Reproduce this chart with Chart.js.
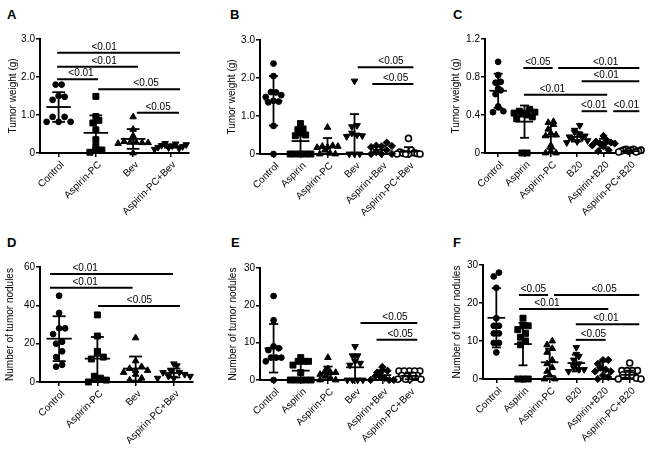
<!DOCTYPE html>
<html><head><meta charset="utf-8">
<script src="https://cdn.jsdelivr.net/npm/chart.js@4/dist/chart.umd.min.js"></script>
<style>
html,body{margin:0;padding:0;background:#fff;}
#wrap{position:relative;width:654px;height:454px;overflow:hidden;background:#fff;}
canvas{position:absolute;}
.lbl{position:absolute;font:bold 13px 'Liberation Sans',Arial,sans-serif;line-height:13px;color:#000;}
</style></head><body><div id="wrap">
<div class="lbl" style="left:7px;top:8px">A</div>
<div class="lbl" style="left:230px;top:8px">B</div>
<div class="lbl" style="left:453px;top:8px">C</div>
<div class="lbl" style="left:7px;top:236px">D</div>
<div class="lbl" style="left:231px;top:236px">E</div>
<div class="lbl" style="left:453px;top:236px">F</div>
<canvas id="cA" width="218" height="225" style="left:0;top:0"></canvas>
<canvas id="cB" width="218" height="225" style="left:218px;top:0"></canvas>
<canvas id="cC" width="218" height="225" style="left:436px;top:0"></canvas>
<canvas id="cD" width="218" height="227" style="left:0;top:227px"></canvas>
<canvas id="cE" width="218" height="227" style="left:218px;top:227px"></canvas>
<canvas id="cF" width="218" height="227" style="left:436px;top:227px"></canvas>
</div>
<script>
// ---------- DATA ----------
const catsA = ['Control','Aspirin-PC','Bev','Aspirin-PC+Bev'];
const catsB = ['Control','Aspirin','Aspirin-PC','Bev','Aspirin+Bev','Aspirin-PC+Bev'];
const catsC = ['Control','Aspirin','Aspirin-PC','B20','Aspirin+B20','Aspirin-PC+B20'];
const catsD = catsA, catsE = catsB, catsF = catsC;

const yTitleTop = 'Tumor weight (g)';
const yTitleBottom = 'Number of tumor nodules';

const yTicksA = [0,1,2,3];        const yLabelsA = ['0','1.0','2.0','3.0'];
const yTicksB = [0,1,2,3];        const yLabelsB = ['0','1.0','2.0','3.0'];
const yTicksC = [0,0.4,0.8,1.2];  const yLabelsC = ['0','0.4','0.8','1.2'];
const yTicksD = [0,20,40,60];     const yLabelsD = ['0','20','40','60'];
const yTicksE = [0,10,20,30];     const yLabelsE = ['0','10','20','30'];
const yTicksF = [0,10,20,30];     const yLabelsF = ['0','10','20','30'];

const valsA = [
  [1.80,1.80,1.50,1.48,1.40,0.95,0.95,0.82,0.82,0.82],
  [1.49,0.96,0.86,0.79,0.61,0.35,0.18,0.10,0.08,0.02],
  [0.95,0.62,0.45,0.30,0.28,0.28,0.27,0.27,0.25,0.00],
  [0.25,0.24,0.22,0.20,0.19,0.17,0.15,0.14,0.12,0.10]
];
const meanA = [1.21,0.53,0.37,0.18];
const sdA   = [0.39,0.46,0.26,0.04];

const valsB = [
  [2.38,2.05,1.63,1.62,1.55,1.50,1.40,1.38,1.36,0.74,0.00],
  [0.80,0.66,0.64,0.55,0.50,0.48,0.00,0.00,0.00,0.00,0.00],
  [0.70,0.22,0.20,0.20,0.18,0.17,0.10,0.02,0.00,0.00],
  [1.92,0.75,0.72,0.55,0.50,0.48,0.46,0.00,0.00,0.00],
  [0.30,0.22,0.21,0.20,0.18,0.10,0.05,0.00,0.00,0.00],
  [0.41,0.10,0.05,0.03,0.02,0.01,0.00,0.00,0.00,0.00]
];
const meanB = [1.40,0.34,0.17,0.51,0.11,0.06];
const sdB   = [0.65,0.35,0.25,0.54,0.10,0.12];

const valsC = [
  [0.96,0.82,0.75,0.74,0.68,0.66,0.62,0.49,0.48,0.44,0.43],
  [0.46,0.44,0.43,0.42,0.42,0.41,0.40,0.38,0.36,0.00,0.00],
  [0.33,0.32,0.30,0.25,0.21,0.19,0.18,0.08,0.02,0.00,0.00],
  [0.29,0.24,0.22,0.20,0.18,0.17,0.16,0.15,0.13,0.12,0.11],
  [0.18,0.13,0.12,0.11,0.10,0.10,0.09,0.08,0.07,0.03,0.02],
  [0.04,0.04,0.03,0.03,0.03,0.02,0.02,0.02,0.01,0.01]
];
const meanC = [0.655,0.33,0.175,0.17,0.10,0.02];
const sdC   = [0.18,0.17,0.13,0.05,0.05,0.01];

const valsD = [
  [45,36,28,28,25,21,20,16,13,9,8],
  [35,24,16,15,13,12,3,2,1,0],
  [23,11,8,7,6,6,5,4,2,1],
  [9.5,8.5,6,5,5,4,3,3,2,2]
];
const meanD = [22.6,12.2,7.0,4.7];
const sdD   = [11.7,11.3,6.3,2.3];

const valsE = [
  [22.5,16,9,8.5,8,6,6,6,5,0],
  [6,5,5,5,4,2,0,0,0,0,0],
  [6,3,2.5,2,2,1.5,1,0.5,0,0],
  [9,6.5,6.5,5,4.5,4,0,0,0,0],
  [3.5,2.5,2.5,2,1,1,0.5,0,0,0],
  [2.4,2.4,2.4,2.4,2.4,1.2,1.2,1.2,0.2,0.2,0.2,0.2]
];
const meanE = [8.5,2.5,1.8,3.4,1.3,1.1];
const sdE   = [6.5,2.8,1.8,3.3,1.3,0.9];

const valsF = [
  [28,27,24,16,14,14,12,12,9.5,9.5,7],
  [16,14,14,13,12,11,10,9,0,0,0],
  [10,9,8,7,5,4,3,2,1,0,0],
  [8.3,6.5,6,5,4,3.5,3,2.5,2.5,2],
  [5,5,4,3,2.5,2,2,1,0.5,0],
  [4.2,2.2,2.2,2.2,2.2,1.1,1.1,1,0.2,0,0]
];
const meanF = [16.1,9.2,4.4,4.2,2.3,1.1];
const sdF   = [7.8,5.6,3.6,2.2,2.3,1.1];

// significance comparisons: [from group, to group, level, label, label position]
const sigA = [[-0.04,3.26,2.64,'<0.01',1.22],[-0.04,2.13,2.27,'<0.01',1.22],[-0.04,1.06,1.94,'<0.01',0.6],[1.06,3.26,1.68,'<0.05',2.35],[2.1,3.23,1.06,'<0.05',2.67]];
const sigB = [[3.12,5.18,2.28,'<0.05',4.35],[3.66,5.18,1.84,'<0.05',4.52]];
const sigC = [[0.955,2.07,0.895,'<0.05',1.51],[2.28,5.36,0.895,'<0.01',4.08],[3.17,5.36,0.754,'<0.01',4.1],[0.98,4.14,0.614,'<0.01',2.06],[3.17,4.14,0.44,'<0.01',3.63],[4.37,5.36,0.44,'<0.01',4.87]];
const sigD = [[-0.24,2.98,56.3,'<0.01',0.68],[-0.24,1.92,49.2,'<0.01',0.68],[1.02,3.16,39.7,'<0.05',2.1]];
const sigE = [[3.2,5.29,15.3,'<0.05',4.47],[3.79,5.29,10.8,'<0.05',4.66]];
const sigF = [[0.85,1.94,22.1,'<0.05',1.39],[2.16,5.36,22.1,'<0.05',4.04],[0.85,4.2,18.4,'<0.01',1.9],[2.98,5.36,14.4,'<0.01',4.11],[2.98,4.1,10.3,'<0.05',3.64]];

// ---------- STYLE / LAYOUT ----------
const MARK = {
  circle:  {pointStyle:'circle',   pointRadius:2.9, pointRotation:0,   backgroundColor:'#000', borderColor:'#000', borderWidth:1},
  square:  {pointStyle:'rect',     pointRadius:4.2, pointRotation:0,   backgroundColor:'#000', borderColor:'#000', borderWidth:1},
  tri:     {pointStyle:'triangle', pointRadius:3.8, pointRotation:0,   backgroundColor:'#000', borderColor:'#000', borderWidth:1},
  inv:     {pointStyle:'triangle', pointRadius:3.8, pointRotation:180, backgroundColor:'#000', borderColor:'#000', borderWidth:1},
  diamond: {pointStyle:'rectRot',  pointRadius:3.6, pointRotation:0,   backgroundColor:'#000', borderColor:'#000', borderWidth:1},
  open:    {pointStyle:'circle',   pointRadius:3.0, pointRotation:0,   backgroundColor:'#fff', borderColor:'#000', borderWidth:1.6}
};
const shapes4 = ['circle','square','tri','inv'];
const shapes6 = ['circle','square','tri','inv','diamond','open'];
const FONT = "'Liberation Sans', Arial, sans-serif";
const TICKFONT = "'Liberation Sans Narrow', 'Liberation Sans', Arial, sans-serif";

function gcd(a,b){ return b ? gcd(b, a%b) : a; }
// symmetric horizontal spreading of points that share (nearly) the same height
function swarm(vals, yPx, catPx, gap) {
  const idx = vals.map((v,i)=>i).sort((a,b)=>vals[a]-vals[b]);
  const offs = new Array(vals.length);
  let k = 0;
  while (k < idx.length) {
    let e = k;
    while (e+1 < idx.length && (vals[idx[e+1]] - vals[idx[k]])*yPx < gap) e++;
    const m = e - k + 1;
    const sp = m > 1 ? Math.min(gap, 0.85*catPx/(m-1)) : 0;
    let st = Math.max(2, Math.round(m*0.38));
    while (m > 2 && gcd(st, m) !== 1) st++;
    for (let j=0; j<m; j++) {
      const pos = m > 2 ? (j*st) % m : j;
      offs[idx[k+j]] = ((pos-(m-1)/2)*sp)/catPx;
    }
    k = e + 1;
  }
  return offs;
}

function makePanel(p) {
  const n = p.cats.length;
  const ymin = p.yTicks[0], ymax = p.yTicks[p.yTicks.length-1];
  const yPx = (p.g.bottom - p.g.top)/(ymax-ymin);
  const catPx = (p.g.right - p.g.left)/n;
  const gap = n > 4 ? 5.2 : 6;
  const datasets = p.vals.map((arr, i) => {
    const offs = swarm(arr, yPx, catPx, gap);
    return Object.assign({
      data: arr.map((v,j)=>({x: i+offs[j], y: v})),
      showLine:false, clip:false, pointHoverRadius:0
    }, MARK[p.shapes[i]]);
  });
  const overlay = {
    id: 'overlay'+p.id,
    afterDatasetsDraw(chart) {
      const ctx = chart.ctx, xs = chart.scales.x, ys = chart.scales.y;
      const cw = xs.getPixelForValue(1) - xs.getPixelForValue(0);
      ctx.save();
      ctx.strokeStyle = '#000'; ctx.lineWidth = 1.8; ctx.lineCap = 'butt';
      const seg = (x1,y1,x2,y2)=>{ctx.beginPath();ctx.moveTo(x1,y1);ctx.lineTo(x2,y2);ctx.stroke();};
      p.mean.forEach((m,i) => {
        const cx = xs.getPixelForValue(i);
        const ym = ys.getPixelForValue(m);
        const hiV = m + p.sd[i], loV = Math.max(ymin, m - p.sd[i]);
        const yh = ys.getPixelForValue(hiV), yl = ys.getPixelForValue(loV);
        seg(cx-0.33*cw, ym, cx+0.33*cw, ym);
        seg(cx, yh, cx, yl);
        seg(cx-0.17*cw, yh, cx+0.17*cw, yh);
        if (m - p.sd[i] > ymin) seg(cx-0.17*cw, yl, cx+0.17*cw, yl);
      });
      ctx.lineWidth = 2;
      ctx.fillStyle = '#000';
      ctx.font = '10px ' + FONT;
      ctx.textAlign = 'center'; ctx.textBaseline = 'alphabetic';
      p.sig.forEach(s => {
        const x1 = xs.getPixelForValue(s[0]), x2 = xs.getPixelForValue(s[1]);
        const y = ys.getPixelForValue(s[2]);
        seg(x1, y, x2, y);
        ctx.fillText(s[3], xs.getPixelForValue(s[4]), y - 3);
      });
      ctx.restore();
    }
  };
  const canvas = document.getElementById('c'+p.id);
  const W = canvas.width, H = canvas.height;
  new Chart(canvas, {
    type: 'scatter',
    data: {datasets},
    plugins: [overlay],
    options: {
      responsive:false, animation:false, devicePixelRatio:1,
      layout: {padding: {left:0, top:p.g.top, right: W - p.g.right, bottom:0}},
      plugins: {legend:{display:false}, tooltip:{enabled:false}},
      events: [],
      scales: {
        x: {
          type:'linear', min:-0.5, max:n-0.5,
          afterBuildTicks: s => { s.ticks = p.cats.map((c,i)=>({value:i})); },
          afterFit: s => { s.height = H - p.g.bottom; },
          grid: {drawOnChartArea:false, drawTicks:true, tickLength:4, color:'#000', lineWidth:1.5},
          border: {display:true, color:'#000', width:2},
          ticks: {
            autoSkip:false, minRotation:45, maxRotation:45, padding:2, labelOffset:4,
            color:'#000', font:{size:10, family:FONT},
            callback: (v, i) => p.cats[i]
          }
        },
        y: {
          type:'linear', min:ymin, max:ymax,
          afterBuildTicks: s => { s.ticks = p.yTicks.map(v=>({value:v})); },
          afterFit: s => { s.width = p.g.left; },
          grid: {drawOnChartArea:false, drawTicks:true, tickLength:4, color:'#000', lineWidth:1.5},
          border: {display:true, color:'#000', width:2},
          ticks: {padding:1, color:'#000', font:{size:10, family:TICKFONT}, callback: (v, i) => p.yLabels[i]},
          title: {display:true, text:p.yTitle, color:'#000', font:{size:10, family:FONT}, padding:{top:p.titleX-6, bottom:0}}
        }
      }
    }
  });
}

Chart.defaults.font.family = FONT;

makePanel({id:'A', cats:catsA, vals:valsA, mean:meanA, sd:sdA, sig:sigA, yTicks:yTicksA, yLabels:yLabelsA, yTitle:yTitleTop,    shapes:shapes4, titleX:13, g:{left:40, right:189, top:39, bottom:153}});
makePanel({id:'B', cats:catsB, vals:valsB, mean:meanB, sd:sdB, sig:sigB, yTicks:yTicksB, yLabels:yLabelsB, yTitle:yTitleTop,    shapes:shapes6, titleX:14, g:{left:42, right:204, top:40, bottom:154}});
makePanel({id:'C', cats:catsC, vals:valsC, mean:meanC, sd:sdC, sig:sigC, yTicks:yTicksC, yLabels:yLabelsC, yTitle:yTitleTop,    shapes:shapes6, titleX:20, g:{left:49, right:207, top:39, bottom:153}});
makePanel({id:'D', cats:catsD, vals:valsD, mean:meanD, sd:sdD, sig:sigD, yTicks:yTicksD, yLabels:yLabelsD, yTitle:yTitleBottom, shapes:shapes4, titleX:10, g:{left:40, right:193, top:40, bottom:155}});
makePanel({id:'E', cats:catsE, vals:valsE, mean:meanE, sd:sdE, sig:sigE, yTicks:yTicksE, yLabels:yLabelsE, yTitle:yTitleBottom, shapes:shapes6, titleX:15, g:{left:42, right:205, top:41, bottom:153}});
makePanel({id:'F', cats:catsF, vals:valsF, mean:meanF, sd:sdF, sig:sigF, yTicks:yTicksF, yLabels:yLabelsF, yTitle:yTitleBottom, shapes:shapes6, titleX:21, g:{left:47, right:207, top:38, bottom:152}});
</script>
</body></html>
